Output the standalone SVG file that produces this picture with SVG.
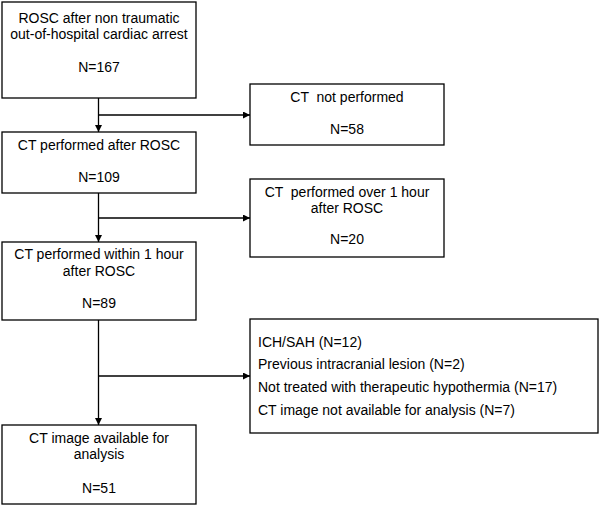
<svg xmlns="http://www.w3.org/2000/svg" width="600" height="506" viewBox="0 0 600 506">
<style>
.box{fill:#fff;stroke:#000;stroke-width:1.3}
.t{font-family:"Liberation Sans",Arial,sans-serif;font-size:14px;fill:#000}
.c{text-anchor:middle}
.ln{fill:none;stroke:#000;stroke-width:1.3}
</style>
<defs>
<marker id="ah" viewBox="0 0 10 10" refX="10" refY="5" markerWidth="7" markerHeight="7" markerUnits="userSpaceOnUse" orient="auto">
<path d="M0,0 L10,5 L0,10 z" fill="#000"/>
</marker>
</defs>
<rect width="600" height="506" fill="#fff"/>
<g id="connectors">
<line class="ln" x1="98.5" y1="98" x2="98.5" y2="132" marker-end="url(#ah)"/>
<line class="ln" x1="98.5" y1="115" x2="250" y2="115" marker-end="url(#ah)"/>
<line class="ln" x1="98.5" y1="193" x2="98.5" y2="242" marker-end="url(#ah)"/>
<line class="ln" x1="98.5" y1="218" x2="250" y2="218" marker-end="url(#ah)"/>
<line class="ln" x1="98.5" y1="320" x2="98.5" y2="425" marker-end="url(#ah)"/>
<line class="ln" x1="98.5" y1="376" x2="250" y2="376" marker-end="url(#ah)"/>
</g>
<g id="n1">
<rect class="box" x="2" y="2" width="194" height="96"/>
<text class="t c" x="99" y="23">ROSC after non traumatic</text>
<text class="t c" x="99" y="39">out-of-hospital cardiac arrest</text>
<text class="t c" x="99" y="72">N=167</text>
</g>
<g id="n2">
<rect class="box" x="250" y="84" width="194" height="61"/>
<text class="t c" x="347" y="102" xml:space="preserve">CT  not performed</text>
<text class="t c" x="347" y="134">N=58</text>
</g>
<g id="n3">
<rect class="box" x="2" y="132" width="194" height="61"/>
<text class="t c" x="99" y="150">CT performed after ROSC</text>
<text class="t c" x="99" y="182">N=109</text>
</g>
<g id="n4">
<rect class="box" x="250" y="179" width="194" height="78"/>
<text class="t c" x="347" y="197" xml:space="preserve">CT  performed over 1 hour</text>
<text class="t c" x="347" y="213">after ROSC</text>
<text class="t c" x="347" y="244">N=20</text>
</g>
<g id="n5">
<rect class="box" x="2" y="242" width="194" height="78"/>
<text class="t c" x="99" y="259">CT performed within 1 hour</text>
<text class="t c" x="99" y="276">after ROSC</text>
<text class="t c" x="99" y="308">N=89</text>
</g>
<g id="n6">
<rect class="box" x="250" y="319" width="348" height="114"/>
<text class="t" x="258" y="347">ICH/SAH (N=12)</text>
<text class="t" x="258" y="369">Previous intracranial lesion (N=2)</text>
<text class="t" x="258" y="392">Not treated with therapeutic hypothermia (N=17)</text>
<text class="t" x="258" y="415">CT image not available for analysis (N=7)</text>
</g>
<g id="n7">
<rect class="box" x="2" y="425" width="194" height="79"/>
<text class="t c" x="99" y="443">CT image available for</text>
<text class="t c" x="99" y="459">analysis</text>
<text class="t c" x="99" y="493">N=51</text>
</g>
</svg>
